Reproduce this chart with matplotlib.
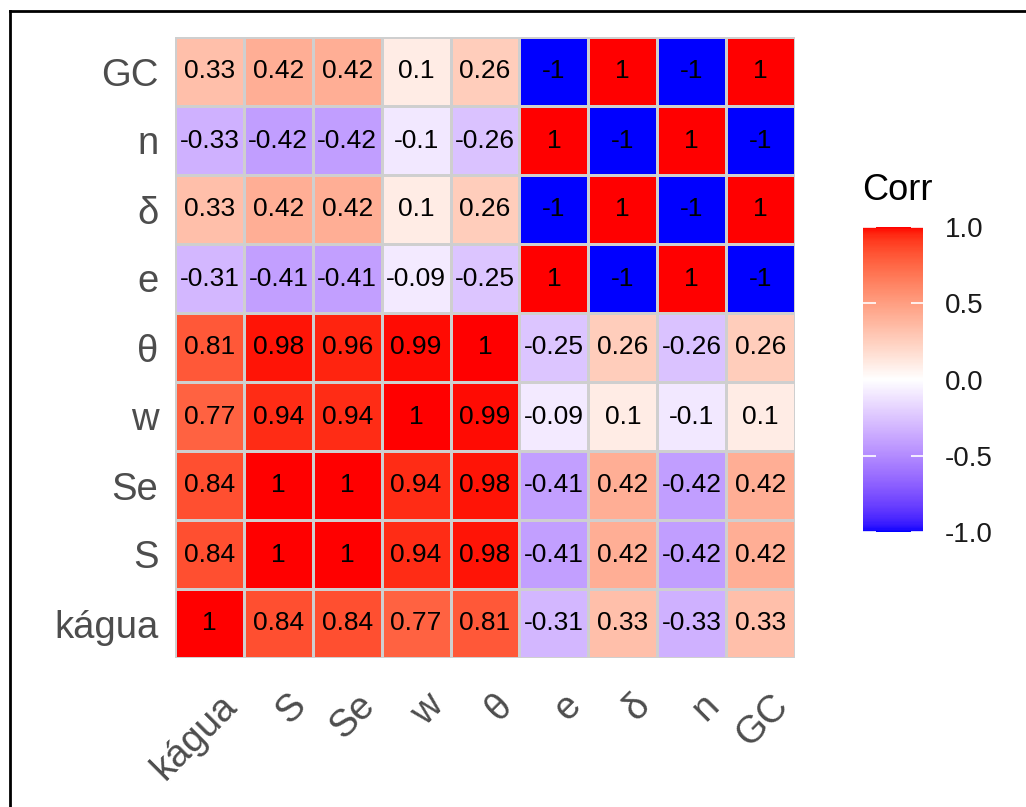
import numpy as np
import matplotlib
matplotlib.use('Agg')
import matplotlib.pyplot as plt
import matplotlib.transforms as mtransforms
from matplotlib.colors import ListedColormap, Normalize
from matplotlib.cm import ScalarMappable
from matplotlib.lines import Line2D

# ---------------- data ----------------
variables = ['kágua', 'S', 'Se', 'w', 'θ', 'e', 'δ', 'n', 'GC']
row_kagua = [1, 0.84, 0.84, 0.77, 0.81, -0.31, 0.33, -0.33, 0.33]
row_S = [0.84, 1, 1, 0.94, 0.98, -0.41, 0.42, -0.42, 0.42]
row_Se = [0.84, 1, 1, 0.94, 0.98, -0.41, 0.42, -0.42, 0.42]
row_w = [0.77, 0.94, 0.94, 1, 0.99, -0.09, 0.1, -0.1, 0.1]
row_theta = [0.81, 0.98, 0.96, 0.99, 1, -0.25, 0.26, -0.26, 0.26]
row_e = [-0.31, -0.41, -0.41, -0.09, -0.25, 1, -1, 1, -1]
row_delta = [0.33, 0.42, 0.42, 0.1, 0.26, -1, 1, -1, 1]
row_n = [-0.33, -0.42, -0.42, -0.1, -0.26, 1, -1, 1, -1]
row_GC = [0.33, 0.42, 0.42, 0.1, 0.26, -1, 1, -1, 1]
colorbar_ticks = [-1.0, -0.5, 0.0, 0.5, 1.0]
colorbar_ticklabels = ['-1.0', '-0.5', '0.0', '0.5', '1.0']
legend_title = 'Corr'

corr = np.array([row_kagua, row_S, row_Se, row_w, row_theta,
                 row_e, row_delta, row_n, row_GC], dtype=float)

# ---------------- Lab gradient (blue - white - red) ----------------
M = np.array([[0.4124564, 0.3575761, 0.1804375],
              [0.2126729, 0.7151522, 0.0721750],
              [0.0193339, 0.1191920, 0.9503041]])
WHITE = np.array([0.95047, 1.0, 1.08883])


def srgb_to_lab(rgb):
    rgb = np.asarray(rgb, float)
    lin = np.where(rgb <= 0.04045, rgb / 12.92, ((rgb + 0.055) / 1.055) ** 2.4)
    xyz = M @ lin
    t = xyz / WHITE
    d = 6 / 29
    f = np.where(t > d ** 3, np.cbrt(t), t / (3 * d ** 2) + 4 / 29)
    return np.array([116 * f[1] - 16, 500 * (f[0] - f[1]), 200 * (f[1] - f[2])])


def lab_to_srgb(lab):
    L, a, b = lab
    fy = (L + 16) / 116
    f = np.array([fy + a / 500, fy, fy - b / 200])
    d = 6 / 29
    t = np.where(f > d, f ** 3, 3 * d ** 2 * (f - 4 / 29))
    xyz = t * WHITE
    lin = np.linalg.solve(M, xyz)
    lin = np.clip(lin, 0, 1)
    rgb = np.where(lin <= 0.0031308, 12.92 * lin, 1.055 * lin ** (1 / 2.4) - 0.055)
    return np.clip(rgb, 0, 1)


low = srgb_to_lab([0, 0, 1])
mid = srgb_to_lab([1, 1, 1])
high = srgb_to_lab([1, 0, 0])
cols = []
for p in np.linspace(0, 1, 256):
    if p <= 0.5:
        q = p / 0.5
        lab = low + (mid - low) * q
    else:
        q = (p - 0.5) / 0.5
        lab = mid + (high - mid) * q
    cols.append(lab_to_srgb(lab))
cmap = ListedColormap(cols)

# ---------------- figure ----------------
FW, FH = 1026, 807
font = ['Liberation Sans', 'DejaVu Sans']
plt.rcParams['font.family'] = font

fig = plt.figure(figsize=(FW / 100, FH / 100), dpi=100)
fig.patch.set_facecolor('white')

ax = fig.add_axes([175 / FW, (FH - 658) / FH, 620 / FW, 621 / FH])
n = len(variables)
edges = np.arange(n + 1)
ax.pcolormesh(edges, edges, corr, cmap=cmap, vmin=-1, vmax=1,
              edgecolors='#CFCFCF', linewidth=0.9)
ax.set_xlim(0, n)
ax.set_ylim(0, n)
for s in ax.spines.values():
    s.set_visible(False)

for i in range(n):
    for j in range(n):
        ax.text(j + 0.5, i + 0.5, f"{corr[i, j]:g}", ha='center', va='center',
                fontsize=19, color='black')

ax.set_xticks(np.arange(n) + 0.5)
ax.set_xticklabels(variables)
ax.set_yticks(np.arange(n) + 0.5)
ax.set_yticklabels(variables)
ax.tick_params(axis='both', length=0, labelsize=27.5, labelcolor='#4D4D4D')
ax.tick_params(axis='y', pad=12)
ax.tick_params(axis='x', pad=4)
offset = mtransforms.ScaledTranslation(9 / 100, -24 / 100, fig.dpi_scale_trans)
for lab in ax.get_xticklabels():
    lab.set_rotation(45)
    lab.set_ha('right')
    lab.set_va('top')
    lab.set_rotation_mode('anchor')
    lab.set_transform(lab.get_transform() + offset)

# ---------------- colorbar ----------------
cax = fig.add_axes([863 / FW, (FH - 532) / FH, 60 / FW, 305 / FH])
sm = ScalarMappable(norm=Normalize(-1, 1), cmap=cmap)
cb = fig.colorbar(sm, cax=cax)
cb.outline.set_visible(False)
cb.set_ticks(colorbar_ticks)
cb.set_ticklabels(colorbar_ticklabels)
cax.tick_params(direction='in', length=9, width=1.2, color='white',
                left=True, right=True, labelleft=False, labelright=True,
                labelsize=20, labelcolor='#1A1A1A', pad=16)
fig.text(862 / FW, 1 - 190 / FH, legend_title, ha='left', va='center',
         fontsize=26, color='black')

# ---------------- frame (screenshot border) ----------------
fig.add_artist(Line2D([9.5 / FW, 9.5 / FW], [0, 1 - 10.5 / FH],
                      transform=fig.transFigure, color='black', lw=2))
fig.add_artist(Line2D([9.5 / FW, 1], [1 - 10.5 / FH, 1 - 10.5 / FH],
                      transform=fig.transFigure, color='black', lw=2))

fig.savefig('out.png', dpi=100, facecolor='white')
